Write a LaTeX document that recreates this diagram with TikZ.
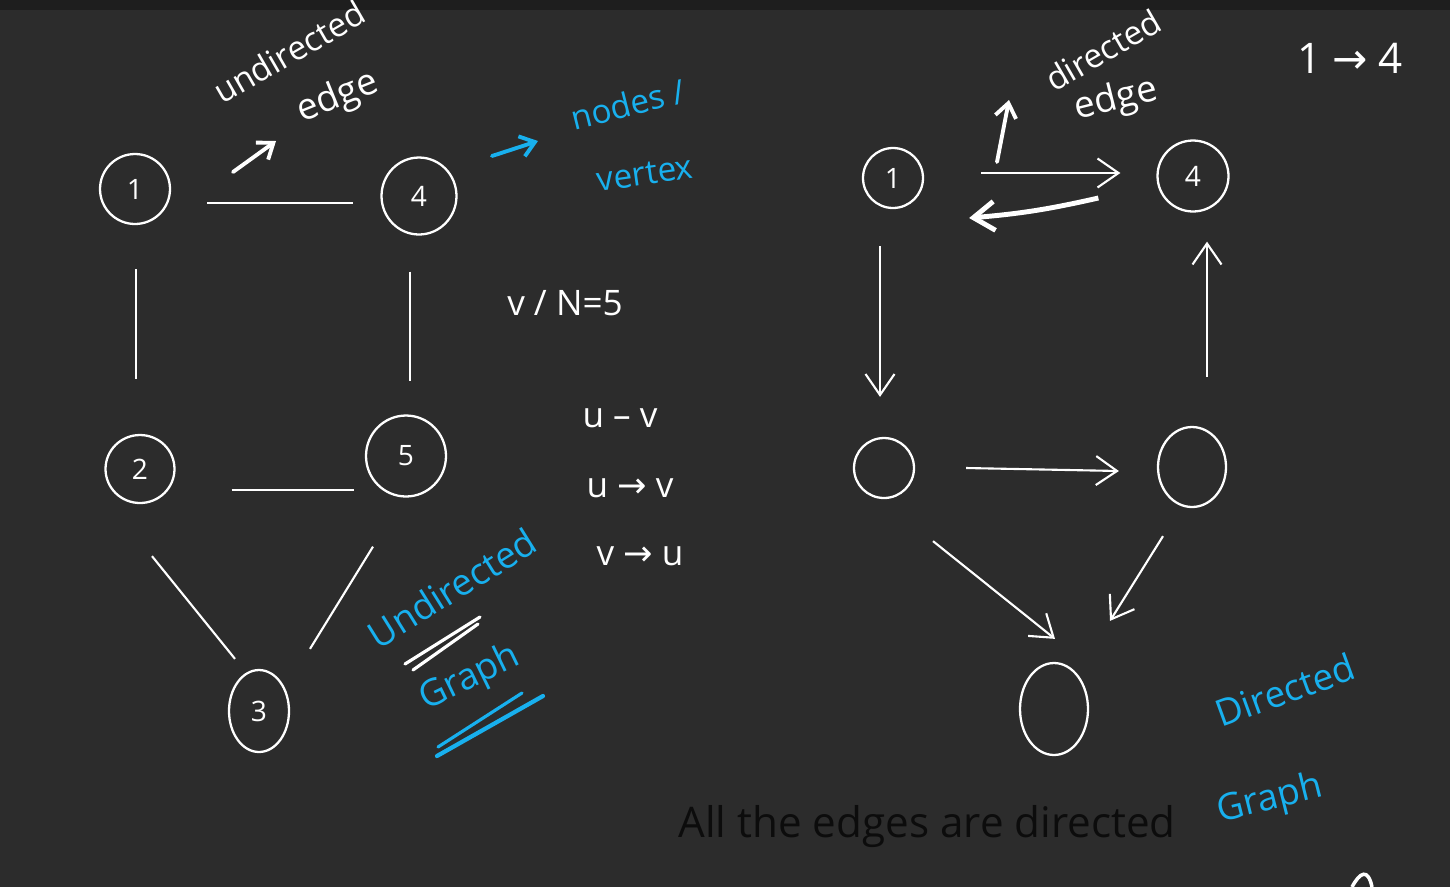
\documentclass[tikz,border=0pt]{standalone}
\usepackage{fontspec}
\setmainfont{Open Sans}
\newfontfamily\symfont{DejaVu Sans}
\usetikzlibrary{arrows.meta,shapes.geometric}

\definecolor{board}{RGB}{44,44,44}
\definecolor{boardtop}{RGB}{30,30,30}
\definecolor{chalkblue}{RGB}{24,176,238}
\definecolor{captiongray}{RGB}{12,12,12}

\tikzset{
  vertex/.style={draw=white, ellipse, line width=1.3pt, inner sep=0pt, text=white,
    font=\fontsize{16}{16}\selectfont},
  edge/.style={draw=white, line width=1.2pt},
  diredge/.style={edge, -{Straight Barb[length=0.42cm,width=0.58cm]}},
  hand/.style={text=white, inner sep=1pt, font=\fontsize{19}{21}\selectfont},
  bluehand/.style={text=chalkblue, inner sep=1pt, font=\fontsize{19}{21}\selectfont},
  pointer/.style={line width=2.2pt, line cap=round, -{Straight Barb[length=0.28cm,width=0.42cm]}}
}

\begin{document}
\begin{tikzpicture}[x=0.02cm, y=-0.02cm]
\useasboundingbox[fill=board] (0,0) rectangle (1450,887);
\fill[boardtop] (0,0) rectangle (1450,10);

% undirected graph
\node[vertex, minimum width=1.4cm, minimum height=1.4cm] (l1) at (135,189) {1};
\node[vertex, minimum width=1.5cm, minimum height=1.54cm] (l4) at (419,196) {4};
\node[vertex, minimum width=1.38cm, minimum height=1.36cm] (l2) at (140,469) {2};
\node[vertex, minimum width=1.6cm, minimum height=1.62cm] (l5) at (406,456) {5};
\node[vertex, minimum width=1.2cm, minimum height=1.64cm] (l3) at (259,711) {3};

\draw[edge] ([shift={(36,14)}]l1.east) -- ([shift={(-27,7)}]l4.west);
\draw[edge] ([shift={(1,44)}]l1.south) -- ([shift={(-4,-55)}]l2.north);
\draw[edge] ([shift={(-9,36)}]l4.south) -- ([shift={(4,-33)}]l5.north);
\draw[edge] ([shift={(56,21)}]l2.east) -- ([shift={(-11,34)}]l5.west);
\draw[edge] ([shift={(12,52)}]l2.south) -- ([shift={(-24,-10)}]l3.north);
\draw[edge] ([shift={(-33,49)}]l5.south) -- ([shift={(51,-20)}]l3.north);

\node[hand, rotate=30] (undirlbl) at (289,52) {undirected};
\node[hand, rotate=22, font=\fontsize{21}{21}\selectfont] (edgelbl) at (338,98) {edge};
\coordinate (ue1) at (233,172);
\coordinate (ue2) at (276,141);
\draw[pointer, white] (ue1) -- (ue2);

\coordinate (nv1) at (492,156);
\coordinate (nv2) at (538,141);
\draw[pointer, chalkblue] (nv1) -- (nv2);
\node[bluehand, rotate=14] (nodeslbl) at (628,104) {nodes /};
\node[bluehand, rotate=8] (vertexlbl) at (645,174) {vertex};

\node[hand, font=\fontsize{20}{22}\selectfont] (countlbl) at (565,303) {v / N=5};
\node[hand, font=\fontsize{20}{22}\selectfont] (uvlbl) at (620,418) {u – v};
\node[hand, font=\fontsize{20}{22}\selectfont] (uvdir) at (630,488) {u {\symfont →} v};
\node[hand, font=\fontsize{20}{22}\selectfont] (vudir) at (640,556) {v {\symfont →} u};

\node[bluehand, rotate=32, font=\fontsize{21}{21}\selectfont] (ugraph1) at (452,588) {Undirected};
\node[bluehand, rotate=26, font=\fontsize{21}{21}\selectfont] (ugraph2) at (470,678) {Graph};
\draw[white, line width=1.8pt, line cap=round] (405,664) -- (480,617);
\draw[white, line width=1.8pt, line cap=round] (413,670) -- (478,624);
\draw[chalkblue, line width=1.8pt, line cap=round] (438,747) -- (522,693);
\draw[chalkblue, line width=2.4pt, line cap=round] (437,756) -- (543,696);

% directed graph
\node[vertex, minimum width=1.2cm, minimum height=1.2cm] (r1) at (893,178) {1};
\node[vertex, minimum width=1.42cm, minimum height=1.42cm] (r4) at (1193,176) {4};
\node[vertex, minimum width=1.2cm, minimum height=1.2cm] (ra) at (884,468) {};
\node[vertex, minimum width=1.36cm, minimum height=1.6cm] (rb) at (1192,467) {};
\node[vertex, minimum width=1.36cm, minimum height=1.84cm] (rc) at (1054,709) {};

\draw[diredge] ([shift={(57,-5)}]r1.east) -- ([shift={(-36,-3)}]r4.west);
\draw[diredge, line width=2.8pt] ([shift={(-58,22)}]r4.west) to[bend left=4] ([shift={(45,40)}]r1.east);
\draw[diredge] ([shift={(-13,37)}]r1.south) -- ([shift={(-4,-40)}]ra.north);
\draw[diredge] ([shift={(15,-49)}]rb.north) -- ([shift={(14,29)}]r4.south);
\draw[diredge] ([shift={(51,0)}]ra.east) -- ([shift={(-38,4)}]rb.west);
\draw[diredge] ([shift={(49,42)}]ra.south) -- ([shift={(1,-23)}]rc.north);
\draw[diredge] ([shift={(-29,28)}]rb.south) -- ([shift={(56,-41)}]rc.north);

\node[hand, rotate=30] (dirlbl) at (1103,50) {directed};
\node[hand, rotate=14, font=\fontsize{21}{21}\selectfont] (dedgelbl) at (1116,100) {edge};
\coordinate (de1) at (997,162);
\coordinate (de2) at (1009,100);
\draw[pointer, white] (de1) -- (de2);
\node[hand, font=\fontsize{24}{24}\selectfont] (onefour) at (1350,58) {1 {\symfont →} 4};

\node[bluehand, rotate=20, font=\fontsize{21}{21}\selectfont] (dgraph1) at (1285,690) {Directed};
\node[bluehand, rotate=14, font=\fontsize{21}{21}\selectfont] (dgraph2) at (1270,800) {Graph};

\node[text=captiongray, font=\fontsize{24}{24}\selectfont] (caption) at (927,827) {All the edges are directed};

\draw[white, line width=2pt] (1352,887) .. controls (1360,872) and (1368,868) .. (1372,887);
\end{tikzpicture}
\end{document}
